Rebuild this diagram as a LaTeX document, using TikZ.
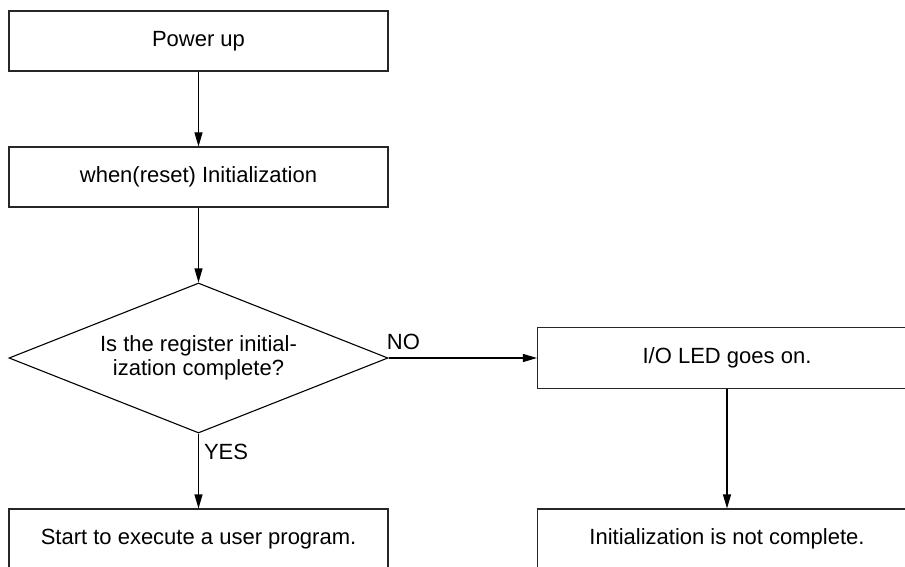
\documentclass[tikz,border=0pt]{standalone}
\usepackage{fontspec}
\setmainfont{Liberation Sans}
\usetikzlibrary{shapes.geometric,arrows.meta}
\begin{document}
\begin{tikzpicture}[x=1pt,y=-1pt,
  font=\fontsize{22}{24}\selectfont,
  box/.style={draw=black!85, line width=1.1pt, rectangle, minimum width=379pt, minimum height=60pt, inner sep=0pt},
  decision/.style={draw=black, line width=1.1pt, diamond, aspect=2.53, minimum width=379pt, minimum height=150pt, inner sep=0pt, align=center},
  flow/.style={draw=black, line width=1.1pt, -{Triangle[length=14pt,width=8pt]}},
  lbl/.style={inner sep=0pt}]
\useasboundingbox (0,0) rectangle (905,567);
\clip (0,0) rectangle (905,567);
\node[box] (power) at (198.5,41) {Power up};
\node[box] (init) at (198.5,177) {when(reset) Initialization};
\node[decision] (dec) at (198.5,358) {Is the register initial-\\ization complete?};
\node[box, minimum height=61pt] (led) at (727,358) {I/O LED goes on.};
\node[box] (start) at (198.5,539) {Start to execute a user program.};
\node[box] (notc) at (727,539) {Initialization is not complete.};
\draw[flow] (power.south) -- (init.north);
\draw[flow] (init.south) -- (dec.north);
\draw[flow] (dec.south) -- node[lbl, pos=0.24, anchor=west, xshift=5pt] (yes) {YES} (start.north);
\draw[flow] (dec.east) -- node[lbl, pos=0.1, anchor=south, yshift=8pt] (no) {NO} (led.west);
\draw[flow] (led.south) -- (notc.north);
\end{tikzpicture}
\end{document}
